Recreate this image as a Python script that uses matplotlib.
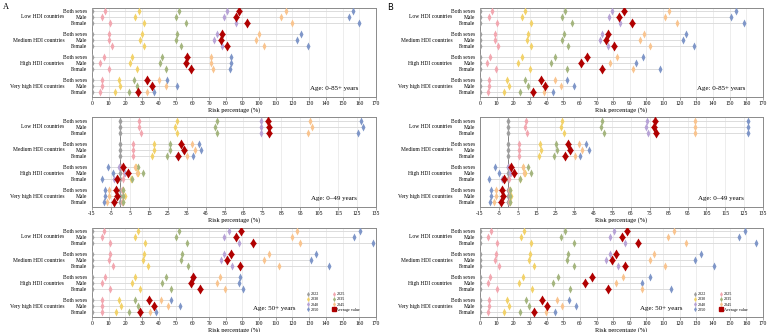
import matplotlib
matplotlib.use('Agg')
import matplotlib.pyplot as plt
import matplotlib.transforms as mtrans
from matplotlib.lines import Line2D

plt.rcParams['font.family'] = ['Liberation Serif', 'DejaVu Serif']

years = ['2022', '2025', '2030', '2035', '2040', '2045', '2050']
groups = ['Low HDI countries', 'Medium HDI countries', 'High HDI countries', 'Very high HDI countries']
sexes = ['Both sexes', 'Male', 'Female']
base_2022 = 0

# Columns: 2025, 2030, 2035, 2040, 2045, 2050, Average value
A_0_85 = [
    [8, 28, 52, 81, 116, 156, 88], [6, 26, 50, 79, 113, 154, 86], [11, 31, 56, 86, 120, 160, 93],
    [10, 30, 51, 75, 100, 125, 78], [10, 29, 50, 73, 98, 123, 77], [12, 31, 53, 78, 103, 129, 81],
    [7, 24, 42, 57, 71, 83, 57], [5, 23, 41, 56, 71, 83, 56], [10, 27, 44, 59, 72.5, 82.7, 59.5],
    [6, 16, 25, 33, 40, 45, 33], [6, 17, 27, 36, 44, 51, 36], [5, 14, 22, 27.5, 33, 37, 27.5],
]
A_0_49 = [
    [10, 30, 51, 74, 100, 127, 78], [10, 29, 50, 74, 101, 128, 78.5], [11, 30, 51, 74, 99, 125.5, 78.3],
    [6.7, 17.6, 26, 32, 38, 41.3, 32.2], [6.7, 17.8, 26.4, 33, 39.5, 42.4, 33.4], [6.7, 16.9, 24.8, 30, 35.4, 38.3, 30.4],
    [0.5, 8.5, 9.3, -0.5, 7.8, -6.7, 1.2], [2, 9.4, 12, 2.6, 8.8, -3.8, 3.8], [1.5, 5.8, 6.2, -3.3, -1.5, -9.6, -1.7],
    [1.0, 1.5, 1.2, -2.5, -6, -8, -2.4], [1.2, 2.4, 1.5, -2, -6, -8, -1.7], [0.8, 1.5, 1.2, -3.2, -7.3, -8.5, -3.3],
]
A_50p = [
    [7.4, 27.6, 52, 82, 123, 160.5, 89.3], [5.8, 25.7, 50, 79, 120, 157, 86.3], [10.7, 31.6, 57, 88, 124.7, 168.4, 96.2],
    [10.7, 31.4, 54, 79, 105.8, 134, 83], [10, 30.4, 53, 77, 103, 131, 81], [12.3, 33.6, 57.5, 84, 112, 141.8, 88.3],
    [7.8, 25.7, 44, 61, 76.4, 88.7, 60.7], [6.1, 23.9, 42, 59.5, 74.8, 87.7, 59], [10.7, 28.8, 47.5, 64.5, 79.5, 90.3, 64.8],
    [6, 16, 25.8, 34, 41.6, 47, 34.2], [6, 17.3, 27.6, 37, 45.5, 52.5, 37], [5.8, 14.3, 22.3, 28.8, 34.6, 38.2, 28.8],
]
B_0_85 = [
    [7, 27, 51, 79.5, 113.4, 153.6, 86.4], [5.5, 25, 49, 77.3, 111, 151, 83.6], [10, 30.5, 55, 84, 118.3, 158.5, 91.6],
    [9.3, 29, 50.5, 73.5, 98.3, 124, 77], [9, 28.4, 49.5, 72.3, 96.3, 121.9, 75.5], [10.9, 30.7, 52.9, 76.9, 102.3, 128.8, 80.3],
    [6, 25, 45, 64.5, 82.5, 97.9, 64.4], [4.4, 22.8, 42.4, 60.5, 78.3, 93.5, 60.4], [9.7, 30, 52, 73, 92, 108.4, 73],
    [5.5, 16.2, 26.8, 36.5, 45, 52, 36.5], [5.5, 17.2, 28.7, 39, 48.6, 56.5, 39], [4.8, 14.3, 23.8, 31.7, 38.6, 44, 31.7],
]
B_0_49 = [
    [9.5, 28.7, 49.9, 73.3, 99.2, 127, 78], [9, 28, 49.3, 72.8, 99.2, 127, 77.3], [9.8, 29.4, 50.7, 74.1, 99.2, 126.8, 78.3],
    [5.8, 16.8, 25.2, 31.7, 37.3, 41.3, 31.7], [5.8, 17.2, 25.7, 33, 38.9, 43, 32.9], [5.8, 16.1, 24.3, 30.3, 35.2, 38.1, 30.3],
    [0.5, 8, 10.2, -0.3, 7.7, -6.8, 1.3], [1.6, 9, 11.9, 0.7, 8.5, -4.9, 3], [0.6, 6, 6.3, -3.3, -1.5, -10.1, -2.1],
    [0.4, 1, 0.8, -3.3, -6.6, -9.1, -3.3], [0.8, 1.3, 1, -2.8, -6.5, -9, -2.8], [0.5, 1, 0.8, -3.8, -7.7, -9.6, -3.8],
]
B_50p = [
    [6.7, 26.6, 51, 80.7, 116.5, 159, 88.4], [4.8, 24.4, 48.8, 78, 113, 155.4, 85.2], [10.1, 30.7, 56.3, 87, 123.5, 166, 95],
    [9.7, 30.3, 53.1, 78, 104.8, 132.8, 81.6], [8.9, 29.3, 52.1, 75.9, 101.9, 129, 79.5], [11.3, 32.5, 56.7, 83, 111, 140.7, 87.2],
    [6.3, 25.7, 46.6, 67.2, 86.2, 102.4, 67.2], [4.6, 23.4, 43.6, 62.8, 81.5, 97.5, 62.8], [10.3, 31.1, 54.1, 77.1, 97.1, 114.6, 77.1],
    [5.4, 16.2, 27.5, 37.5, 46.2, 53.3, 37.5], [5.5, 17.6, 29.3, 40.2, 49.5, 57.5, 40.2], [4.6, 14.3, 24.2, 32.5, 39.8, 45.2, 32.5],
]

ages = ['Age: 0-85+ years', 'Age: 0\u201349 years', 'Age: 50+ years']
xticks_wide = list(range(0, 171, 10))
xticks_49 = list(range(-15, 136, 10))

year_colors = ['#9e9e9e', '#f2a7b0', '#f2d269', '#a4b57e', '#b7a3d6', '#f9c48f', '#7f96c8']
avg_color = '#b00000'

W, H = 768, 332
fig = plt.figure(figsize=(W / 100, H / 100), dpi=100)

panel_left = {'A': (92, 284), 'B': (480, 283)}
rows_px = [(7.5, 96.5), (117, 206.5), (227.5, 316.5)]

ypos = [g * 3.85 + s for g in range(4) for s in range(3)]

FS = 4.0


def draw(ax, data, xlim, xticks, age, show_legend, zero_line):
    ax.set_xlim(*xlim)
    ax.set_ylim(14.25, -0.58)
    ax.set_xticks(xticks)
    ax.set_xticklabels([str(t) for t in xticks], fontsize=FS)
    ax.tick_params(axis='x', length=1.8, pad=1.2, width=0.5, color='#808080')
    ax.set_yticks(ypos)
    ax.set_yticklabels(sexes * 4, fontsize=FS)
    ax.tick_params(axis='y', length=0, pad=3.4)
    ax.grid(axis='x', color='#e6e6e6', lw=0.5)
    ax.set_axisbelow(True)
    for sp in ax.spines.values():
        sp.set_color('#8a8a8a')
        sp.set_linewidth(0.7)
    if zero_line:
        ax.axvline(0, color='#6a6a6a', lw=0.6, zorder=1.5)
    for i, row in enumerate(data):
        y = ypos[i]
        vals = [base_2022] + row[:6]
        ax.plot([min(vals + [row[6]]), max(vals + [row[6]])], [y, y], color='#dcdcdc', lw=0.7, zorder=1)
        for k, v in enumerate(vals):
            ax.plot(v, y, marker='d', ms=3.6, color=year_colors[k], mec='none', ls='none', zorder=3)
        ax.plot(row[6], y, marker='d', ms=5.5, color=avg_color, mec='none', ls='none', zorder=4)
        ax.plot(row[6], y, marker='_', ms=4.2, mew=1.0, color=avg_color, ls='none', zorder=4)
    tr = mtrans.blended_transform_factory(ax.transAxes, ax.transData)
    for g, name in enumerate(groups):
        ax.text(-0.098, ypos[g * 3 + 1], name, transform=tr, ha='right', va='center', fontsize=FS)
    ax.set_xlabel('Risk percentage (%)', fontsize=4.6, labelpad=0.8)
    if show_legend:
        ax.text(0.64, 0.09, age, transform=ax.transAxes, ha='center', va='center', fontsize=5)
        handles = []
        order = [0, 2, 4, 6, 1, 3, 5]
        for k in order:
            handles.append(Line2D([], [], marker='d', ms=2.6, color=year_colors[k], mec='none', ls='none', label=years[k]))
        handles.append(Line2D([], [], marker='s', ms=2.4, color=avg_color, ls='none', label='Average value'))
        ax.legend(handles=handles, ncol=2, loc='upper left', bbox_to_anchor=(0.755, 0.275), frameon=False,
                  fontsize=3.0, handlelength=0.8, handletextpad=0.3, columnspacing=3.0, labelspacing=0.3,
                  borderpad=0, borderaxespad=0)
    else:
        ax.text(0.853, 0.088, age, transform=ax.transAxes, ha='center', va='center', fontsize=5)


panels = {'A': [A_0_85, A_0_49, A_50p], 'B': [B_0_85, B_0_49, B_50p]}
for p, (lpx, wpx) in panel_left.items():
    for j, (tpx, bpx) in enumerate(rows_px):
        ax = fig.add_axes([lpx / W, 1 - bpx / H, wpx / W, (bpx - tpx) / H])
        if j == 1:
            draw(ax, panels[p][j], (-15, 135), xticks_49, ages[j], False, True)
        else:
            draw(ax, panels[p][j], (0, 170), xticks_wide, ages[j], j == 2, False)

fig.text(3 / W, 1 - 7 / H, 'A', fontsize=6, ha='left', va='center')
fig.text(387 / W, 1 - 7 / H, 'B', fontsize=6, ha='left', va='center', family='DejaVu Sans')

fig.savefig('out.png', dpi=100)
